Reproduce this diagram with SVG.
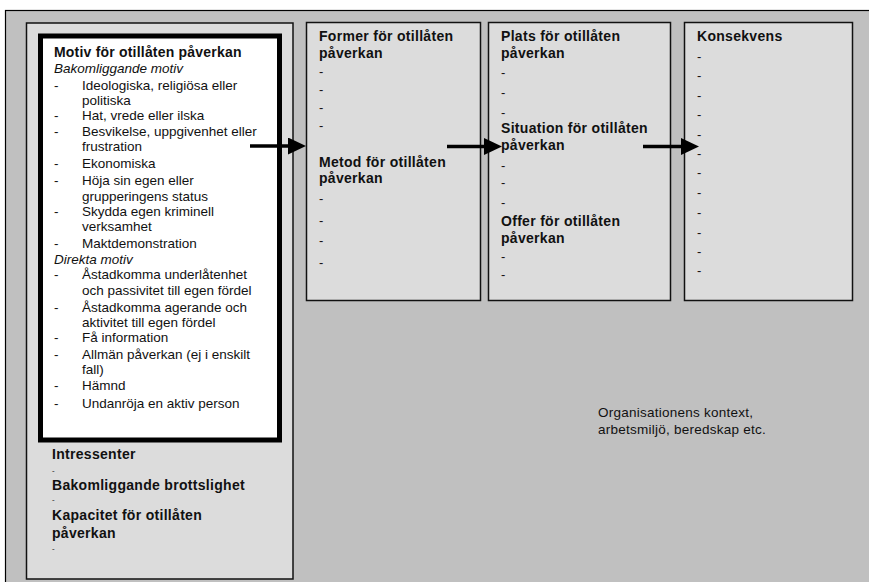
<svg xmlns="http://www.w3.org/2000/svg" width="869" height="582" viewBox="0 0 869 582">
<style>
  text { font-family: "Liberation Sans", Arial, sans-serif; fill: #111; }
  .h { font-size: 14px; font-weight: bold; letter-spacing: 0.3px; }
  .t { font-size: 13.5px; }
  .i { font-size: 13.5px; font-style: italic; }
  .d { font-size: 13px; }
  .sd { font-size: 8px; }
  .col { fill: #dcdcdc; stroke: #111; stroke-width: 1.5; }
  .conn { stroke: #000; stroke-width: 3.3; fill: none; marker-end: url(#ah); }
</style>
<defs>
  <marker id="ah" markerUnits="userSpaceOnUse" markerWidth="18" markerHeight="17" refX="0" refY="8.5" orient="auto">
    <path d="M0,0 L18,8.5 L0,17 z" fill="#000"/>
  </marker>
</defs>
<rect x="0" y="0" width="869" height="582" fill="#fff"/>
<g id="context">
  <rect x="5.5" y="10.5" width="900" height="600" fill="#c0c0c0" stroke="#000" stroke-width="1.2"/>
  <text class="t" x="598" y="417" style="letter-spacing:0.25px">Organisationens kontext,</text>
  <text class="t" x="598" y="434" style="letter-spacing:0.25px">arbetsmiljö, beredskap etc.</text>
</g>
<g id="actor">
  <rect class="col" x="26.5" y="23" width="266.5" height="556"/>
  <text class="h" x="52" y="459">Intressenter</text>
  <text class="sd" x="52" y="472.5">-</text>
  <text class="h" x="52" y="490">Bakomliggande brottslighet</text>
  <text class="sd" x="52" y="501.5">-</text>
  <text class="h" x="52" y="520">Kapacitet för otillåten</text>
  <text class="h" x="52" y="538">påverkan</text>
  <text class="sd" x="52" y="550.5">-</text>
</g>
<g id="motiv">
  <rect x="40.5" y="36" width="239" height="404" fill="#fff" stroke="#000" stroke-width="5"/>
  <text class="h" x="54" y="57" style="letter-spacing:0.2px">Motiv för otillåten påverkan</text>
  <text class="i" x="54" y="73">Bakomliggande motiv</text>
  <text class="t" x="54" y="90">-</text><text class="t" x="82" y="90">Ideologiska, religiösa eller</text>
  <text class="t" x="82" y="105">politiska</text>
  <text class="t" x="54" y="120.3">-</text><text class="t" x="82" y="120.3">Hat, vrede eller ilska</text>
  <text class="t" x="54" y="135.5">-</text><text class="t" x="82" y="135.5">Besvikelse, uppgivenhet eller</text>
  <text class="t" x="82" y="151">frustration</text>
  <text class="t" x="54" y="167.6">-</text><text class="t" x="82" y="167.6">Ekonomiska</text>
  <text class="t" x="54" y="185.3">-</text><text class="t" x="82" y="185.3">Höja sin egen eller</text>
  <text class="t" x="82" y="200.5">grupperingens status</text>
  <text class="t" x="54" y="216">-</text><text class="t" x="82" y="216">Skydda egen kriminell</text>
  <text class="t" x="82" y="231">verksamhet</text>
  <text class="t" x="54" y="247.6">-</text><text class="t" x="82" y="247.6">Maktdemonstration</text>
  <text class="i" x="54" y="263.6">Direkta motiv</text>
  <text class="t" x="54" y="279.3">-</text><text class="t" x="82" y="279.3">Åstadkomma underlåtenhet</text>
  <text class="t" x="82" y="294.5">och passivitet till egen fördel</text>
  <text class="t" x="54" y="311.6">-</text><text class="t" x="82" y="311.6">Åstadkomma agerande och</text>
  <text class="t" x="82" y="326.5">aktivitet till egen fördel</text>
  <text class="t" x="54" y="342.3">-</text><text class="t" x="82" y="342.3">Få information</text>
  <text class="t" x="54" y="358.6">-</text><text class="t" x="82" y="358.6">Allmän påverkan (ej i enskilt</text>
  <text class="t" x="82" y="373.8">fall)</text>
  <text class="t" x="54" y="389.6">-</text><text class="t" x="82" y="389.6">Hämnd</text>
  <text class="t" x="54" y="407.6">-</text><text class="t" x="82" y="407.6">Undanröja en aktiv person</text>
</g>
<g id="former">
  <rect class="col" x="306.5" y="22.5" width="174" height="278"/>
  <text class="h" x="319" y="41">Former för otillåten</text>
  <text class="h" x="319" y="58">påverkan</text>
  <text class="d" x="319" y="75.7">-</text>
  <text class="d" x="319" y="94">-</text>
  <text class="d" x="319" y="111.7">-</text>
  <text class="d" x="319" y="130">-</text>
  <text class="h" x="319" y="166.5">Metod för otillåten</text>
  <text class="h" x="319" y="182.5">påverkan</text>
  <text class="d" x="319" y="203.3">-</text>
  <text class="d" x="319" y="224.7">-</text>
  <text class="d" x="319" y="244.7">-</text>
  <text class="d" x="319" y="266.7">-</text>
</g>
<g id="plats">
  <rect class="col" x="488.5" y="22.5" width="182" height="278"/>
  <text class="h" x="501" y="41">Plats för otillåten</text>
  <text class="h" x="501" y="58">påverkan</text>
  <text class="d" x="501" y="77.3">-</text>
  <text class="d" x="501" y="96.7">-</text>
  <text class="d" x="501" y="116.7">-</text>
  <text class="h" x="501" y="133.3">Situation för otillåten</text>
  <text class="h" x="501" y="150">påverkan</text>
  <text class="d" x="501" y="170">-</text>
  <text class="d" x="501" y="186.7">-</text>
  <text class="d" x="501" y="206.7">-</text>
  <text class="h" x="501" y="226">Offer för otillåten</text>
  <text class="h" x="501" y="242.5">påverkan</text>
  <text class="d" x="501" y="260.7">-</text>
  <text class="d" x="501" y="279">-</text>
</g>
<g id="konsekvens">
  <rect class="col" x="684.5" y="22.5" width="168" height="278"/>
  <text class="h" x="697" y="41">Konsekvens</text>
  <text class="d" x="697" y="60.7">-</text>
  <text class="d" x="697" y="80">-</text>
  <text class="d" x="697" y="100">-</text>
  <text class="d" x="697" y="119">-</text>
  <text class="d" x="697" y="139">-</text>
  <text class="d" x="697" y="158.3">-</text>
  <text class="d" x="697" y="177.3">-</text>
  <text class="d" x="697" y="197.3">-</text>
  <text class="d" x="697" y="216.7">-</text>
  <text class="d" x="697" y="236.7">-</text>
  <text class="d" x="697" y="255.7">-</text>
  <text class="d" x="697" y="275">-</text>
</g>
<g id="connectors">
  <line class="conn" x1="250" y1="146" x2="288" y2="146"/>
  <line class="conn" x1="447" y1="146.5" x2="484" y2="146.5"/>
  <line class="conn" x1="643" y1="146.5" x2="681" y2="146.5"/>
</g>
</svg>
